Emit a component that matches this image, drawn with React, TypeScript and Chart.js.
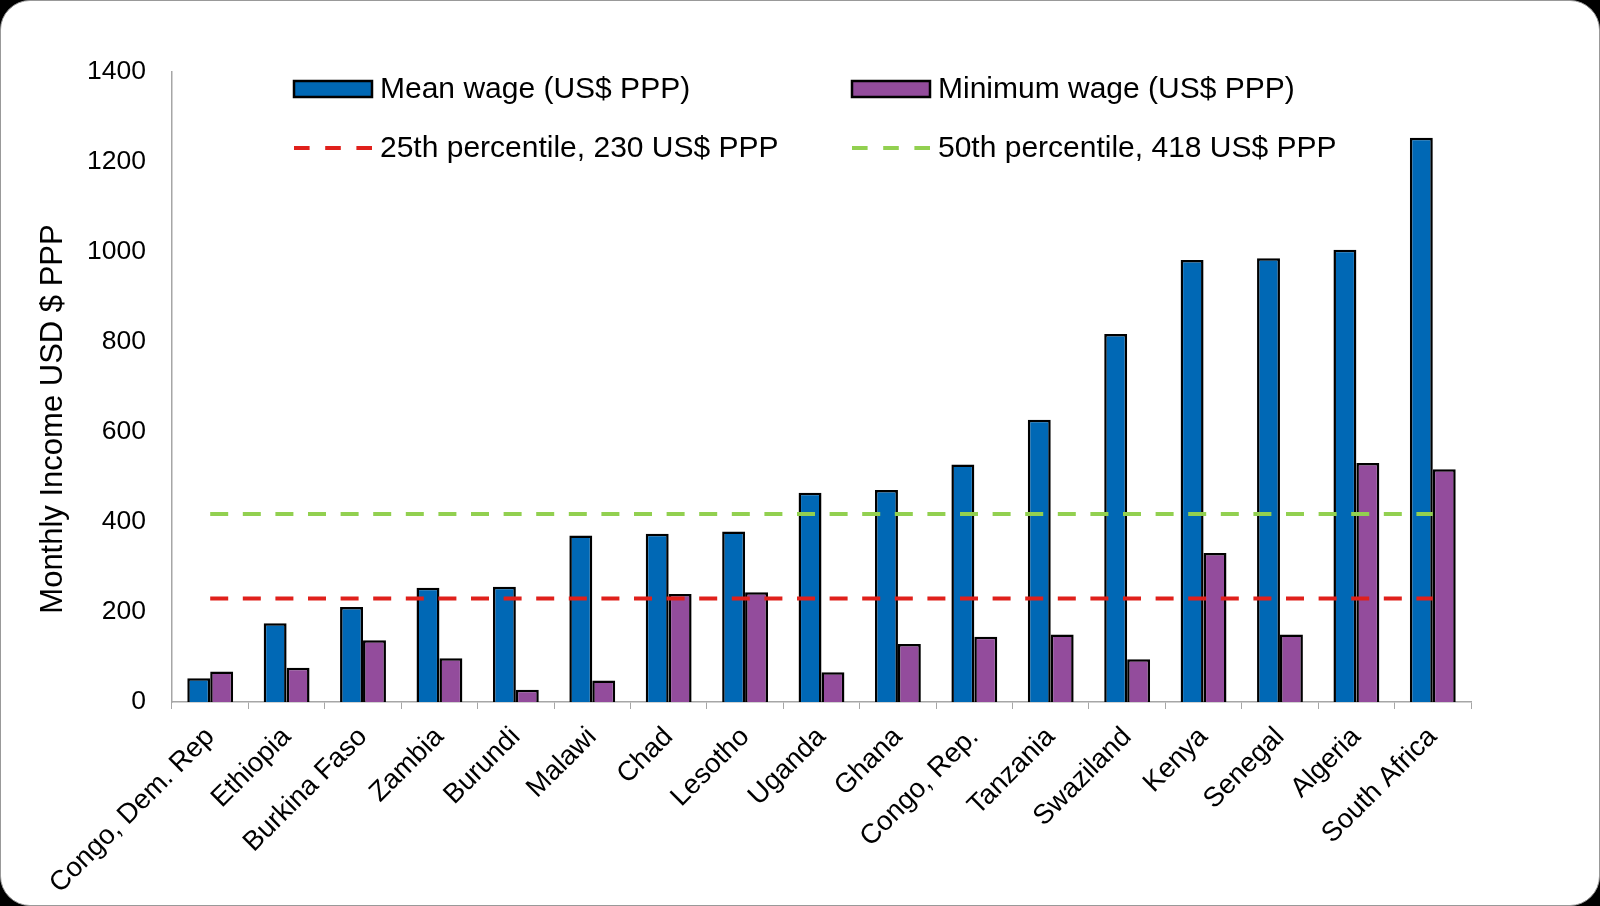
import React, { useRef, useEffect } from 'react';
import { Chart, registerables } from 'chart.js';

Chart.register(...registerables);

const countries = [
    'Congo, Dem. Rep', 'Ethiopia', 'Burkina Faso', 'Zambia', 'Burundi', 'Malawi', 'Chad', 'Lesotho',
    'Uganda', 'Ghana', 'Congo, Rep.', 'Tanzania', 'Swaziland', 'Kenya', 'Senegal', 'Algeria', 'South Africa',
];
const meanWage = [53, 175, 211, 254, 256, 370, 374, 379, 465, 471, 528, 627, 818, 982, 986, 1005, 1254];
const minimumWage = [68, 76, 137, 97, 27, 48, 240, 244, 66, 129, 145, 150, 95, 331, 150, 531, 517];
const percentile25 = 230;
const percentile50 = 418;
const yTicks = [0, 200, 400, 600, 800, 1000, 1200, 1400];

const FONT = '"Liberation Sans", Arial, sans-serif';

// legend drawn inside the plot, two columns like the original
const legendPlugin = {
    id: 'gridLegend',
    afterDraw(chart: any) {
        const { ctx, chartArea } = chart;
        const cols = [chartArea.left + 122, chartArea.left + 680];
        const rows = [chartArea.top + 17, chartArea.top + 76];
        const boxW = 78;
        const datasets = chart.data.datasets;
        ctx.save();
        ctx.font = `30px ${FONT}`;
        ctx.textBaseline = 'middle';
        ctx.textAlign = 'left';
        datasets.forEach((ds: any, i: number) => {
            const x = cols[i % 2];
            const y = rows[Math.floor(i / 2)];
            if (ds.type === 'line') {
                ctx.strokeStyle = ds.borderColor;
                ctx.lineWidth = 4;
                ctx.setLineDash([15.6, 15.6]);
                ctx.beginPath();
                ctx.moveTo(x, y);
                ctx.lineTo(x + boxW, y);
                ctx.stroke();
                ctx.setLineDash([]);
            } else {
                ctx.fillStyle = ds.backgroundColor;
                ctx.fillRect(x, y - 8, boxW, 16);
                ctx.strokeStyle = '#000';
                ctx.lineWidth = 2.5;
                ctx.strokeRect(x, y - 8, boxW, 16);
            }
            ctx.fillStyle = '#000';
            ctx.fillText(ds.label, x + boxW + 8, y + 1);
        });

        // y axis title, sits a bit below centre in the original
        ctx.translate(chartArea.left - 119, (chartArea.top + chartArea.bottom) / 2 + 32);
        ctx.rotate(-Math.PI / 2);
        ctx.textAlign = 'center';
        ctx.font = `31px ${FONT}`;
        ctx.fillText('Monthly Income USD $ PPP', 0, 0);
        ctx.restore();
    },
};

const App: React.FC = () => {
    const chartRef = useRef<HTMLCanvasElement>(null);
    const chartInstanceRef = useRef<Chart | null>(null);

    useEffect(() => {
        document.body.style.margin = '0';
        document.body.style.background = '#000';
        if (!chartRef.current) return;
        const ctx = chartRef.current.getContext('2d');
        if (!ctx) return;
        if (chartInstanceRef.current) chartInstanceRef.current.destroy();

        chartInstanceRef.current = new Chart(ctx, {
            type: 'bar',
            data: {
                labels: countries,
                datasets: [
                    {
                        type: 'bar',
                        label: 'Mean wage (US$ PPP)',
                        data: meanWage,
                        backgroundColor: '#0068B5',
                        borderColor: '#000',
                        borderWidth: 2.5,
                        order: 1,
                    },
                    {
                        type: 'bar',
                        label: 'Minimum wage (US$ PPP)',
                        data: minimumWage,
                        backgroundColor: '#934C9C',
                        borderColor: '#000',
                        borderWidth: 2.5,
                        order: 1,
                    },
                    {
                        type: 'line',
                        label: `25th percentile, ${percentile25} US$ PPP`,
                        data: countries.map(() => percentile25),
                        borderColor: '#E0201B',
                        borderWidth: 4,
                        borderDash: [18, 14.6],
                        pointRadius: 0,
                        order: 0,
                    },
                    {
                        type: 'line',
                        label: `50th percentile, ${percentile50} US$ PPP`,
                        data: countries.map(() => percentile50),
                        borderColor: '#92D050',
                        borderWidth: 4,
                        borderDash: [18, 14.6],
                        pointRadius: 0,
                        order: 0,
                    },
                ] as any,
            },
            options: {
                responsive: false,
                animation: false,
                layout: { padding: { top: 72, right: 129, bottom: 0, left: 0 } },
                datasets: {
                    bar: { categoryPercentage: 0.6, barPercentage: 1.0 },
                },
                plugins: {
                    legend: { display: false },
                    tooltip: { enabled: false },
                },
                scales: {
                    x: {
                        grid: { display: true, drawOnChartArea: false, drawTicks: true, tickLength: 7, color: '#A6A6A6', offset: true },
                        border: { color: '#A6A6A6', width: 1.5 },
                        ticks: {
                            autoSkip: false,
                            maxRotation: 45,
                            minRotation: 45,
                            color: '#000',
                            padding: 12,
                            font: { family: FONT, size: 27.5 },
                        },
                        afterFit: (scale: any) => { scale.height = 204; },
                    },
                    y: {
                        min: 0,
                        max: 1400,
                        afterBuildTicks: (scale: any) => { scale.ticks = yTicks.map((v) => ({ value: v })); },
                        grid: { display: false, drawTicks: false },
                        border: { color: '#A6A6A6', width: 1.5 },
                        ticks: {
                            color: '#000',
                            padding: 26,
                            font: { family: FONT, size: 26.5 },
                            callback: (value: any) => String(value),
                        },
                        afterFit: (scale: any) => { scale.width = 172; },
                    },
                },
            },
            plugins: [legendPlugin],
        });

        return () => {
            if (chartInstanceRef.current) chartInstanceRef.current.destroy();
        };
    }, []);

    return (
        <div style={{ position: 'relative', width: 1600, height: 906, background: '#000', overflow: 'hidden' }}>
            <div
                style={{
                    position: 'absolute', left: 0, top: 0, width: 1600, height: 906, boxSizing: 'border-box',
                    background: '#fff', border: '1px solid #999', borderRadius: 30,
                }}
            />
            <canvas ref={chartRef} width={1600} height={906} style={{ position: 'absolute', left: 0, top: 0 }}></canvas>
        </div>
    );
};

export default App;
